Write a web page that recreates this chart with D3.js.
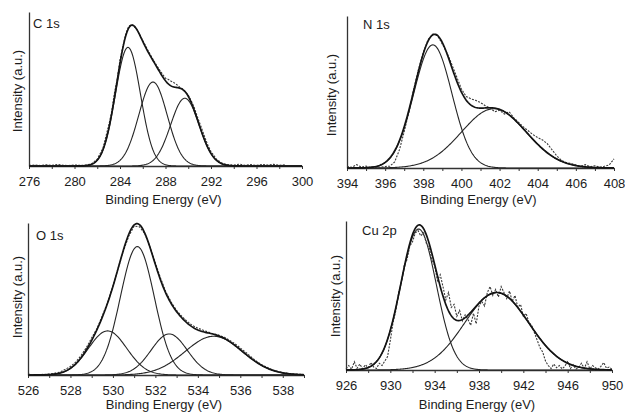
<!DOCTYPE html>
<html>
<head>
<meta charset="utf-8">
<script src="https://cdn.jsdelivr.net/npm/d3@7"></script>
<style>
  html, body { margin: 0; padding: 0; background: #fff; }
  svg { display: block; font-family: "Liberation Sans", Arial, sans-serif; }
</style>
</head>
<body>
<svg id="chart" width="625" height="413"></svg>
<script>
// ---- Spectrum labels and energy axes ----
const panelTitles = ["C 1s", "N 1s", "O 1s", "Cu 2p"];
const xDomains = [[276, 300], [394, 408], [526, 539], [926, 950]];
const xTickLabels = [
  [276, 280, 284, 288, 292, 296, 300],
  [394, 396, 398, 400, 402, 404, 406, 408],
  [526, 528, 530, 532, 534, 536, 538],
  [926, 930, 934, 938, 942, 946, 950]
];
const xTickMarks = [
  [276, 278, 280, 282, 284, 286, 288, 290, 292, 294, 296, 298, 300],
  [394, 395, 396, 397, 398, 399, 400, 401, 402, 403, 404, 405, 406, 407, 408],
  [526, 527, 528, 529, 530, 531, 532, 533, 534, 535, 536, 537, 538, 539],
  [926, 928, 930, 932, 934, 936, 938, 940, 942, 944, 946, 948, 950]
];
const xAxisTitle = "Binding Energy (eV)";
const yAxisTitle = "Intensity (a.u.)";

// ---- Fitted Gaussian components (centre eV, height, sigma eV) ----
const c1sCenters = [284.7, 286.9, 289.7];
const c1sHeights = [0.77, 0.545, 0.44];
const c1sSigmas  = [1.1, 1.25, 1.25];

const n1sCenters = [398.5, 401.7];
const n1sHeights = [0.81, 0.39];
const n1sSigmas  = [1.0, 1.7];

const o1sCenters = [529.75, 531.15, 532.65, 534.75];
const o1sHeights = [0.29, 0.845, 0.27, 0.255];
const o1sSigmas  = [0.9, 0.8, 0.85, 1.35];

const cu2pCenters = [932.55, 939.6];
const cu2pHeights = [0.946, 0.52];
const cu2pSigmas  = [1.6, 2.9];

// ---- Measured spectra [binding energy, normalised intensity] ----
const c1sData = [
  [276.0,0.004],[276.5,0.006],[277.0,0.003],[277.5,0.008],[278.0,0.004],[278.5,0.010],
  [279.0,0.005],[279.5,0.003],[280.0,0.007],[280.5,0.004],[281.0,0.006],[281.5,0.014],
  [282.0,0.045],[282.5,0.115],[283.0,0.262],[283.25,0.345],[283.5,0.470],[283.75,0.560],
  [284.0,0.690],[284.25,0.775],[284.5,0.855],[284.75,0.905],[285.0,0.920],[285.25,0.905],
  [285.5,0.885],[285.75,0.850],[286.0,0.815],[286.25,0.780],[286.5,0.745],[286.75,0.712],
  [287.0,0.680],[287.25,0.650],[287.5,0.622],[287.75,0.595],[288.0,0.570],[288.25,0.562],
  [288.5,0.550],[288.75,0.541],[289.0,0.528],[289.25,0.512],[289.5,0.500],[289.75,0.482],
  [290.0,0.460],[290.25,0.425],[290.5,0.385],[290.75,0.330],[291.0,0.280],[291.25,0.230],
  [291.5,0.178],[291.75,0.130],[292.0,0.094],[292.5,0.042],[293.0,0.018],[293.5,0.008],
  [294.0,0.006],[294.5,0.012],[295.0,0.005],[295.5,0.009],[296.0,0.004],[296.5,0.010],
  [297.0,0.006],[297.5,0.011],[298.0,0.005],[298.5,0.008]
];

const n1sData = [
  [394.0,0.010],[394.25,0.004],[394.5,0.022],[394.75,0.006],[395.0,0.012],[395.25,0.003],
  [395.5,0.008],[395.75,0.005],[396.0,0.010],[396.25,0.012],[396.5,0.040],[396.75,0.120],
  [397.0,0.240],[397.25,0.370],[397.5,0.520],[397.75,0.650],[398.0,0.760],[398.25,0.845],
  [398.5,0.880],[398.75,0.870],[399.0,0.815],[399.25,0.755],[399.5,0.680],[399.75,0.600],
  [400.0,0.520],[400.25,0.470],[400.5,0.455],[400.75,0.445],[401.0,0.430],[401.25,0.410],
  [401.5,0.395],[401.75,0.370],[402.0,0.380],[402.25,0.355],[402.5,0.370],[402.75,0.330],
  [403.0,0.300],[403.25,0.270],[403.5,0.245],[403.75,0.220],[404.0,0.200],[404.25,0.185],
  [404.5,0.160],[404.75,0.120],[405.0,0.080],[405.25,0.050],[405.5,0.035],[405.75,0.030],
  [406.0,0.020],[406.25,0.012],[406.5,0.022],[406.75,0.008],[407.0,0.015],[407.25,0.006],
  [407.5,0.012],[407.75,0.020],[408.0,0.060]
];

const o1sData = [
  [526.0,0.004],[526.5,0.003],[527.0,0.006],[527.5,0.018],[528.0,0.056],[528.25,0.085],
  [528.5,0.128],[528.75,0.180],[529.0,0.245],[529.25,0.305],[529.5,0.390],[529.75,0.478],
  [530.0,0.585],[530.25,0.705],[530.5,0.818],[530.75,0.915],[531.0,0.980],[531.25,0.975],
  [531.5,0.930],[531.75,0.840],[532.0,0.735],[532.25,0.635],[532.5,0.545],[532.75,0.478],
  [533.0,0.425],[533.25,0.385],[533.5,0.352],[533.75,0.325],[534.0,0.308],[534.25,0.295],
  [534.5,0.282],[534.75,0.270],[535.0,0.262],[535.25,0.248],[535.5,0.228],[535.75,0.205],
  [536.0,0.178],[536.25,0.150],[536.5,0.120],[536.75,0.092],[537.0,0.068],[537.5,0.035],
  [538.0,0.015],[538.5,0.006],[539.0,0.003]
];

const cu2pData = [
  [926.0,0.010],[926.25,0.030],[926.5,0.005],[926.75,0.055],[927.0,0.012],[927.25,0.040],
  [927.5,0.008],[927.75,0.035],[928.0,0.015],[928.25,0.050],[928.5,0.020],[928.75,0.010],
  [929.0,0.045],[929.25,0.030],[929.5,0.060],[929.75,0.090],[930.0,0.200],[930.25,0.320],
  [930.5,0.400],[930.75,0.520],[931.0,0.590],[931.25,0.700],[931.5,0.740],[931.75,0.830],
  [932.0,0.860],[932.25,0.920],[932.5,0.935],[932.75,0.900],[933.0,0.920],[933.25,0.850],
  [933.5,0.820],[933.75,0.740],[934.0,0.700],[934.25,0.600],[934.5,0.640],[934.75,0.560],
  [935.0,0.470],[935.25,0.520],[935.5,0.420],[935.75,0.440],[936.0,0.360],[936.25,0.400],
  [936.5,0.330],[936.75,0.370],[937.0,0.340],[937.25,0.300],[937.5,0.380],[937.75,0.310],
  [938.0,0.430],[938.25,0.460],[938.5,0.430],[938.75,0.520],[939.0,0.560],[939.25,0.500],
  [939.5,0.540],[939.75,0.490],[940.0,0.560],[940.25,0.520],[940.5,0.480],[940.75,0.530],
  [941.0,0.460],[941.25,0.500],[941.5,0.420],[941.75,0.440],[942.0,0.360],[942.25,0.380],
  [942.5,0.320],[942.75,0.300],[943.0,0.250],[943.25,0.200],[943.5,0.150],[943.75,0.120],
  [944.0,0.060],[944.25,0.030],[944.5,0.010],[944.75,0.040],[945.0,0.015],[945.25,0.030],
  [945.5,0.008],[945.75,0.025],[946.0,0.060],[946.25,0.010],[946.5,0.035],[946.75,0.005],
  [947.0,0.020],[947.25,0.045],[947.5,0.010],[947.75,0.055],[948.0,0.008],[948.25,0.030],
  [948.5,0.015],[948.75,0.005],[949.0,0.025],[949.25,0.050],[949.5,0.012],[949.75,0.020],
  [950.0,0.005]
];

// ---- Assemble the four spectra ----
const spectra = [
  { centers: c1sCenters,  heights: c1sHeights,  sigmas: c1sSigmas,  data: c1sData },
  { centers: n1sCenters,  heights: n1sHeights,  sigmas: n1sSigmas,  data: n1sData },
  { centers: o1sCenters,  heights: o1sHeights,  sigmas: o1sSigmas,  data: o1sData },
  { centers: cu2pCenters, heights: cu2pHeights, sigmas: cu2pSigmas, data: cu2pData }
];

// Plot frames: energy-axis pixel span, baseline and top of the intensity axis, title positions
const frames = [
  { x0: 29,  x1: 302, base: 166, top: 12,  xTitleY: 204, yTitleX: 18,  yTitleY: 91,  titleX: 33,  titleY: 28 },
  { x0: 347, x1: 614, base: 168, top: 16,  xTitleY: 204, yTitleX: 332, yTitleY: 95,  titleX: 363, titleY: 29 },
  { x0: 28,  x1: 304, base: 375, top: 223, xTitleY: 409, yTitleX: 18,  yTitleY: 297, titleX: 36,  titleY: 240 },
  { x0: 346, x1: 612, base: 370, top: 221, xTitleY: 409, yTitleX: 336, yTitleY: 296, titleX: 362, titleY: 235 }
];

const gauss = (e, c, h, s) => h * Math.exp(-((e - c) * (e - c)) / (2 * s * s));

const svg = d3.select("#chart");
const textColor = "#1c1c1c";
const fontSize = "13px";

spectra.forEach((sp, i) => {
  const f = frames[i];
  const dom = xDomains[i];
  const x = d3.scaleLinear().domain(dom).range([f.x0, f.x1]);
  const y = d3.scaleLinear().domain([0, 1]).range([f.base, f.top]);
  const g = svg.append("g");

  // energy axis with small ticks, labels only on the major values
  const labelSet = new Set(xTickLabels[i]);
  const xAxis = d3.axisBottom(x)
    .tickValues(xTickMarks[i])
    .tickFormat(d => labelSet.has(d) ? String(d) : "")
    .tickSize(3)
    .tickSizeOuter(0)
    .tickPadding(8);
  const ax = g.append("g").attr("transform", `translate(0,${f.base})`).call(xAxis);
  ax.select(".domain").attr("stroke", "#333").attr("stroke-width", 1.3);
  ax.selectAll(".tick line").attr("stroke", "#333").attr("stroke-width", 1);
  ax.selectAll(".tick text")
    .attr("fill", textColor)
    .style("font-size", fontSize)
    .style("font-family", "'Liberation Sans', Arial, sans-serif");

  // intensity axis: plain vertical line, no ticks
  const yAxis = d3.axisLeft(y).tickValues([]).tickSizeOuter(0);
  const ay = g.append("g").attr("transform", `translate(${f.x0},0)`).call(yAxis);
  ay.select(".domain").attr("stroke", "#333").attr("stroke-width", 1.3);

  // axis titles
  g.append("text")
    .attr("x", (f.x0 + f.x1) / 2 - 2)
    .attr("y", f.xTitleY)
    .attr("text-anchor", "middle")
    .attr("fill", textColor)
    .style("font-size", fontSize)
    .text(xAxisTitle);

  g.append("text")
    .attr("transform", `translate(${f.yTitleX + 4},${f.yTitleY}) rotate(-90)`)
    .attr("text-anchor", "middle")
    .attr("fill", textColor)
    .style("font-size", fontSize)
    .text(yAxisTitle);

  g.append("text")
    .attr("x", f.titleX)
    .attr("y", f.titleY)
    .attr("fill", textColor)
    .style("font-size", fontSize)
    .text(panelTitles[i]);

  // evaluation grid for the fitted curves
  const grid = d3.range(dom[0], dom[1] + 0.001, 0.05);
  const line = d3.line().x(d => x(d[0])).y(d => y(d[1])).curve(d3.curveLinear);

  // individual components
  sp.centers.forEach((c, k) => {
    const pts = grid.map(e => [e, gauss(e, c, sp.heights[k], sp.sigmas[k])]);
    g.append("path")
      .attr("d", line(pts))
      .attr("fill", "none")
      .attr("stroke", "#262626")
      .attr("stroke-width", 1.1);
  });

  // measured spectrum, dotted
  g.append("path")
    .attr("d", line(sp.data))
    .attr("fill", "none")
    .attr("stroke", "#3a3a3a")
    .attr("stroke-width", 1.1)
    .attr("stroke-dasharray", "2,1.3");

  // total fit envelope
  const envelope = grid.map(e => [e, d3.sum(sp.centers, (c, k) => gauss(e, c, sp.heights[k], sp.sigmas[k]))]);
  g.append("path")
    .attr("d", line(envelope))
    .attr("fill", "none")
    .attr("stroke", "#141414")
    .attr("stroke-width", 1.7);
});
</script>
</body>
</html>
